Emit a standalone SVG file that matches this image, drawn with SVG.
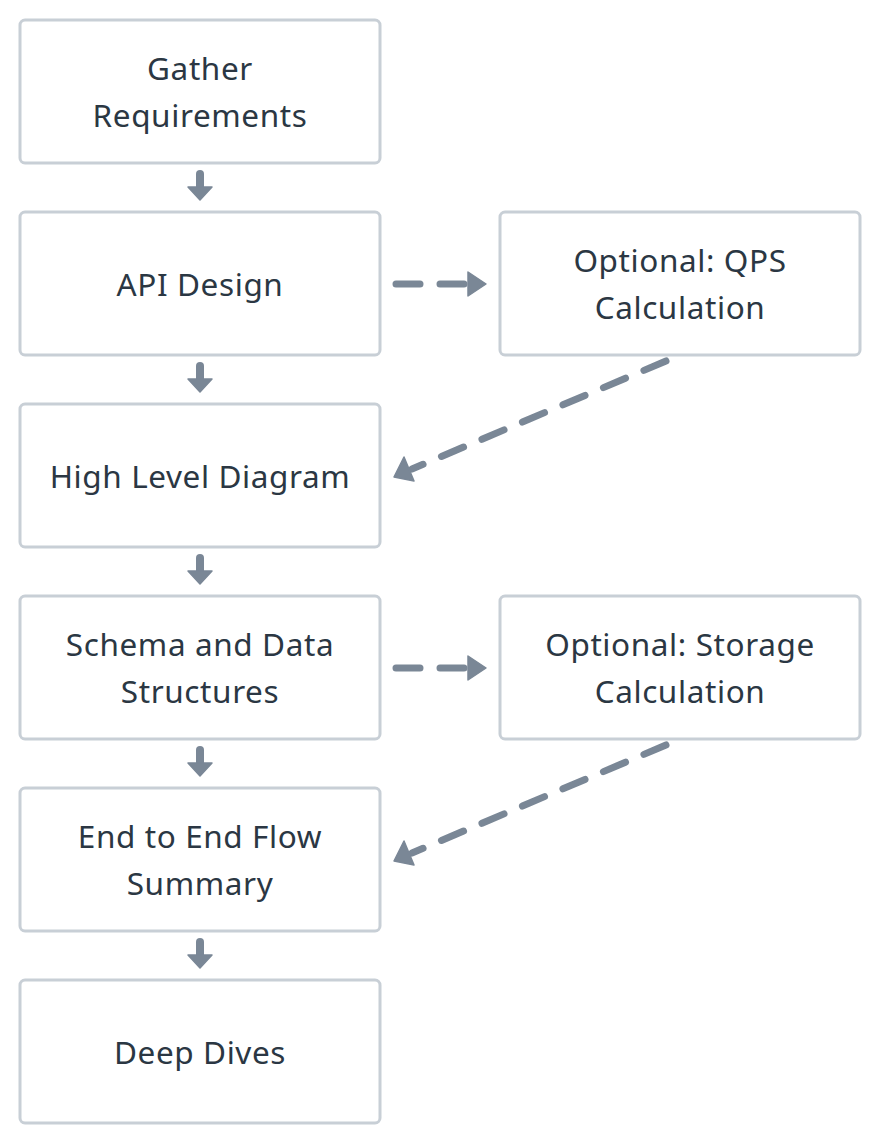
<svg xmlns="http://www.w3.org/2000/svg" width="880" height="1144" viewBox="0 0 880 1144">
<style>
.box{fill:#fff;stroke:#c8cfd6;stroke-width:3}
.t{font-family:"Noto Sans","DejaVu Sans",sans-serif;font-size:31.5px;fill:#2b3743;text-anchor:middle;letter-spacing:0.6px}
.s{stroke:#7a8796;stroke-width:8;fill:none;stroke-linecap:round}
.d{stroke:#7a8796;stroke-width:7;fill:none;stroke-linecap:round;stroke-dasharray:24 20}
.h{fill:#7a8796;stroke:#7a8796;stroke-width:1.5;stroke-linejoin:round}
</style>
<rect width="880" height="1144" fill="#fff"/>
<g id="n1"><rect class="box" x="20" y="20" width="360" height="143" rx="5"/><text class="t" x="200" y="80">Gather</text><text class="t" x="200" y="127">Requirements</text></g>
<g id="n2"><rect class="box" x="20" y="212" width="360" height="143" rx="5"/><text class="t" x="200" y="296">API Design</text></g>
<g id="n3"><rect class="box" x="20" y="404" width="360" height="143" rx="5"/><text class="t" x="200" y="488">High Level Diagram</text></g>
<g id="n4"><rect class="box" x="20" y="596" width="360" height="143" rx="5"/><text class="t" x="200" y="656">Schema and Data</text><text class="t" x="200" y="703">Structures</text></g>
<g id="n5"><rect class="box" x="20" y="788" width="360" height="143" rx="5"/><text class="t" x="200" y="848">End to End Flow</text><text class="t" x="200" y="895">Summary</text></g>
<g id="n6"><rect class="box" x="20" y="980" width="360" height="143" rx="5"/><text class="t" x="200" y="1064">Deep Dives</text></g>
<g id="n7"><rect class="box" x="500" y="212" width="360" height="143" rx="5"/><text class="t" x="680" y="272">Optional: QPS</text><text class="t" x="680" y="319">Calculation</text></g>
<g id="n8"><rect class="box" x="500" y="596" width="360" height="143" rx="5"/><text class="t" x="680" y="656">Optional: Storage</text><text class="t" x="680" y="703">Calculation</text></g>
<g id="edges">
<path class="s" d="M200 174V188"/><path class="h" d="M188 187H212L200 200Z"/>
<path class="s" d="M200 366V380"/><path class="h" d="M188 379H212L200 392Z"/>
<path class="s" d="M200 558V572"/><path class="h" d="M188 571H212L200 584Z"/>
<path class="s" d="M200 750V764"/><path class="h" d="M188 763H212L200 776Z"/>
<path class="s" d="M200 942V956"/><path class="h" d="M188 955H212L200 968Z"/>
<path class="d" d="M396 284H470"/><path class="h" d="M468 272V296L486 284Z"/>
<path class="d" d="M396 668H470"/><path class="h" d="M468 656V680L486 668Z"/>
<path class="d" d="M666 361L412 469"/><path class="h" d="M394 477L404 457L414 481Z"/>
<path class="d" d="M666 745L412 853"/><path class="h" d="M394 861L404 841L414 865Z"/>
</g>
</svg>
